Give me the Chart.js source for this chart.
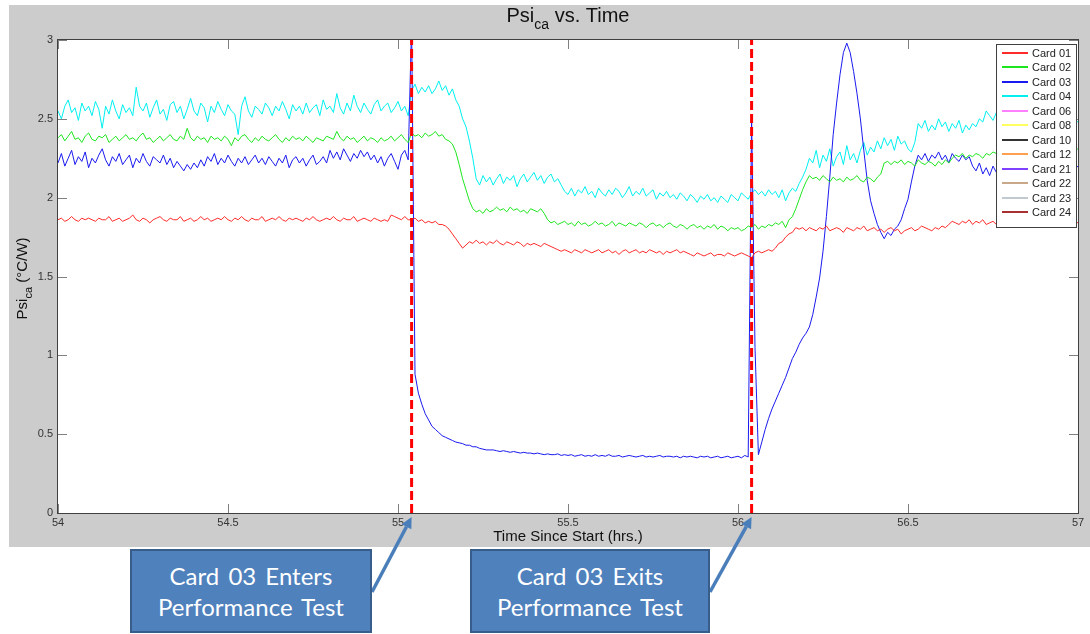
<!DOCTYPE html>
<html><head><meta charset="utf-8">
<script src="https://cdn.jsdelivr.net/npm/chart.js@4.4.1/dist/chart.umd.min.js"></script>
<style>
html,body{margin:0;padding:0;background:#fff;}
#wrap{position:relative;width:1090px;height:634px;overflow:hidden;}
#c{position:absolute;left:0;top:0;}
.callout{position:absolute;box-sizing:border-box;background:#4F81BD;border:2px solid #385D8A;color:#fff;
 font-family:Lato,"Open Sans",sans-serif;font-size:24px;line-height:31px;text-align:center;
 display:flex;flex-direction:column;align-items:center;justify-content:center;word-spacing:3px;}
</style></head>
<body>
<div id="wrap"><canvas id="c" width="1090" height="634"></canvas></div>
<script>
// ---------------- DATA ----------------
const tStart = 54.00, tStep = 0.01;           // sample grid (hrs)
const xTickValues = [54, 54.5, 55, 55.5, 56, 56.5, 57];
const yTickValues = [0, 0.5, 1, 1.5, 2, 2.5, 3];
const eventTimes = [55.04, 56.04];
const eventTexts = [["Card 03 Enters", "Performance Test"], ["Card 03 Exits", "Performance Test"]];
const seriesNames = ["Card 01","Card 02","Card 03","Card 04","Card 06","Card 08","Card 10","Card 12","Card 21","Card 22","Card 23","Card 24"];
const seriesColors = ["#ff2a2a","#1ee61e","#1a1af0","#00f0f0","#ff80ff","#ffff60","#333333","#ffa050","#8040ff","#c8a888","#c0c8d0","#a83030"];

const card01 = [
1.86,1.87,1.85,1.86,1.88,1.86,1.85,1.87,1.86,1.87,
1.86,1.85,1.87,1.86,1.86,1.88,1.85,1.86,1.87,1.85,
1.86,1.87,1.89,1.86,1.85,1.87,1.86,1.84,1.86,1.87,
1.88,1.86,1.85,1.87,1.86,1.86,1.88,1.85,1.86,1.87,
1.85,1.86,1.88,1.86,1.87,1.85,1.86,1.87,1.86,1.88,
1.86,1.85,1.87,1.86,1.88,1.86,1.85,1.87,1.86,1.86,
1.88,1.85,1.86,1.87,1.86,1.88,1.86,1.85,1.87,1.86,
1.87,1.86,1.85,1.87,1.86,1.88,1.86,1.85,1.86,1.87,
1.86,1.88,1.86,1.85,1.87,1.86,1.86,1.88,1.85,1.86,
1.87,1.86,1.85,1.87,1.86,1.85,1.86,1.85,1.89,1.88,
1.87,1.86,1.88,1.86,1.86,1.87,1.85,1.86,1.84,1.85,
1.84,1.85,1.83,1.83,1.82,1.80,1.77,1.74,1.71,1.68,
1.70,1.72,1.71,1.73,1.71,1.72,1.70,1.72,1.71,1.73,
1.71,1.70,1.72,1.71,1.70,1.72,1.71,1.69,1.71,1.70,
1.71,1.70,1.69,1.71,1.70,1.69,1.68,1.67,1.66,1.67,
1.66,1.65,1.67,1.66,1.65,1.67,1.66,1.65,1.66,1.67,
1.65,1.66,1.67,1.65,1.66,1.64,1.66,1.67,1.65,1.66,
1.67,1.65,1.66,1.65,1.67,1.66,1.65,1.66,1.64,1.66,
1.65,1.66,1.67,1.65,1.66,1.65,1.64,1.63,1.65,1.64,
1.63,1.64,1.65,1.63,1.64,1.64,1.63,1.65,1.64,1.63,
1.64,1.65,1.64,1.63,1.62,1.65,1.66,1.65,1.66,1.67,
1.66,1.68,1.71,1.72,1.75,1.77,1.78,1.81,1.80,1.81,
1.79,1.81,1.80,1.79,1.81,1.80,1.82,1.79,1.80,1.81,
1.80,1.78,1.81,1.80,1.79,1.81,1.80,1.82,1.79,1.80,
1.81,1.79,1.80,1.78,1.80,1.81,1.79,1.80,1.77,1.79,
1.80,1.81,1.79,1.80,1.82,1.81,1.80,1.79,1.81,1.80,
1.82,1.81,1.83,1.85,1.84,1.83,1.85,1.84,1.86,1.83,
1.85,1.84,1.86,1.83,1.84,1.85,1.83,1.84,1.86,1.84,
1.85,1.83,1.84,1.85,1.84,1.86,1.83,1.84,1.85,1.84,
1.83,1.85,1.84,1.83,1.85,1.84,1.86,1.84,1.83,1.85,
1.84];

const card02 = [
2.38,2.40,2.36,2.39,2.42,2.37,2.38,2.35,2.39,2.41,
2.37,2.36,2.39,2.38,2.40,2.35,2.37,2.39,2.36,2.38,
2.40,2.37,2.38,2.36,2.39,2.41,2.37,2.38,2.35,2.37,
2.39,2.36,2.38,2.40,2.37,2.36,2.39,2.37,2.44,2.38,
2.36,2.39,2.37,2.38,2.35,2.39,2.37,2.38,2.36,2.39,
2.37,2.33,2.38,2.36,2.39,2.40,2.37,2.35,2.38,2.36,
2.39,2.37,2.36,2.38,2.40,2.37,2.35,2.38,2.36,2.39,
2.37,2.38,2.36,2.39,2.37,2.35,2.38,2.37,2.36,2.39,
2.38,2.37,2.42,2.38,2.36,2.39,2.37,2.38,2.35,2.37,
2.39,2.36,2.38,2.37,2.35,2.38,2.36,2.37,2.39,2.36,
2.38,2.40,2.37,2.35,2.41,2.39,2.40,2.38,2.41,2.39,
2.40,2.42,2.39,2.40,2.37,2.36,2.34,2.29,2.21,2.12,
2.05,1.98,1.93,1.91,1.92,1.90,1.93,1.91,1.92,1.94,
1.92,1.93,1.91,1.94,1.92,1.93,1.91,1.92,1.90,1.93,
1.92,1.91,1.93,1.90,1.86,1.84,1.85,1.83,1.84,1.85,
1.83,1.84,1.82,1.85,1.83,1.84,1.82,1.83,1.85,1.83,
1.84,1.82,1.83,1.85,1.82,1.84,1.83,1.82,1.84,1.83,
1.82,1.84,1.83,1.81,1.83,1.84,1.82,1.83,1.81,1.83,
1.84,1.82,1.81,1.83,1.82,1.80,1.82,1.83,1.81,1.82,
1.80,1.82,1.81,1.83,1.80,1.82,1.81,1.79,1.81,1.80,
1.81,1.79,1.80,1.82,1.81,1.83,1.80,1.82,1.81,1.83,
1.82,1.84,1.83,1.85,1.81,1.86,1.88,1.93,1.99,2.05,
2.10,2.14,2.12,2.13,2.11,2.14,2.12,2.10,2.13,2.11,
2.12,2.10,2.13,2.11,2.12,2.14,2.11,2.10,2.13,2.12,
2.10,2.13,2.15,2.22,2.23,2.21,2.23,2.22,2.24,2.21,
2.23,2.22,2.20,2.24,2.22,2.21,2.23,2.22,2.20,2.23,
2.21,2.24,2.22,2.25,2.27,2.26,2.28,2.25,2.27,2.26,
2.28,2.27,2.25,2.28,2.27,2.29,2.28,2.26,2.28,2.29,
2.28,2.30,2.27,2.29,2.28,2.30,2.28,2.29,2.27,2.30,
2.29,2.28,2.30,2.29,2.31,2.28,2.30,2.29,2.31,2.30,
2.31];

const card03 = [
2.22,2.28,2.20,2.25,2.30,2.21,2.26,2.23,2.29,2.19,
2.25,2.22,2.27,2.31,2.24,2.20,2.26,2.23,2.28,2.21,
2.24,2.27,2.19,2.25,2.22,2.28,2.23,2.20,2.26,2.24,
2.22,2.27,2.21,2.25,2.19,2.23,2.20,2.17,2.21,2.18,
2.22,2.19,2.24,2.20,2.26,2.23,2.28,2.21,2.25,2.22,
2.27,2.23,2.20,2.25,2.22,2.26,2.21,2.24,2.27,2.22,
2.25,2.21,2.26,2.23,2.20,2.25,2.22,2.27,2.19,2.24,
2.26,2.22,2.25,2.20,2.24,2.27,2.21,2.23,2.26,2.22,
2.30,2.25,2.29,2.24,2.31,2.27,2.23,2.28,2.25,2.30,
2.26,2.29,2.24,2.27,2.22,2.26,2.20,2.25,2.28,2.23,
2.18,2.27,2.30,2.24,3.10,0.88,0.76,0.69,0.63,0.59,
0.55,0.53,0.51,0.49,0.48,0.47,0.46,0.45,0.445,0.44,
0.43,0.43,0.42,0.42,0.41,0.405,0.40,0.40,0.40,0.395,
0.39,0.395,0.39,0.385,0.39,0.385,0.38,0.385,0.38,0.38,
0.375,0.38,0.375,0.37,0.375,0.37,0.37,0.375,0.365,0.37,
0.365,0.37,0.36,0.365,0.37,0.36,0.365,0.36,0.37,0.36,
0.365,0.36,0.37,0.36,0.36,0.365,0.355,0.36,0.365,0.36,
0.355,0.36,0.365,0.355,0.36,0.355,0.36,0.365,0.355,0.36,
0.36,0.355,0.36,0.35,0.36,0.355,0.36,0.355,0.35,0.36,
0.355,0.36,0.35,0.355,0.36,0.35,0.355,0.36,0.35,0.355,
0.36,0.35,0.365,0.355,2.50,1.05,0.37,0.45,0.53,0.60,
0.66,0.71,0.76,0.81,0.86,0.92,0.98,1.02,1.07,1.11,
1.14,1.18,1.26,1.37,1.49,1.66,1.88,2.13,2.40,2.60,
2.78,2.92,2.98,2.92,2.80,2.66,2.50,2.30,2.11,1.98,
1.90,1.83,1.78,1.74,1.78,1.76,1.80,1.82,1.86,1.93,
1.99,2.10,2.20,2.27,2.24,2.28,2.23,2.27,2.25,2.29,
2.24,2.27,2.22,2.28,2.25,2.23,2.27,2.24,2.26,2.20,
2.17,2.22,2.15,2.19,2.14,2.20,2.16,2.21,2.18,2.15,
2.19,2.22,2.17,2.20,2.16,2.21,2.18,2.23,2.19,2.17,
2.21,2.18,2.22,2.19,2.16,2.20,2.23,2.19,2.21,2.18,
2.20];

const card04 = [
2.55,2.50,2.58,2.62,2.54,2.57,2.49,2.60,2.55,2.58,
2.52,2.61,2.56,2.44,2.58,2.53,2.62,2.55,2.50,2.59,
2.54,2.57,2.52,2.70,2.58,2.55,2.60,2.51,2.57,2.62,
2.53,2.56,2.49,2.59,2.61,2.54,2.58,2.50,2.56,2.63,
2.55,2.52,2.60,2.57,2.48,2.58,2.54,2.61,2.56,2.52,
2.59,2.55,2.53,2.40,2.58,2.64,2.55,2.51,2.58,2.56,
2.53,2.60,2.57,2.52,2.58,2.55,2.61,2.56,2.50,2.59,
2.55,2.58,2.53,2.60,2.54,2.57,2.59,2.52,2.62,2.56,
2.58,2.54,2.66,2.57,2.53,2.60,2.55,2.65,2.58,2.54,
2.60,2.56,2.53,2.59,2.62,2.55,2.58,2.60,2.54,2.57,
2.61,2.55,2.58,2.52,2.68,2.72,2.66,2.70,2.67,2.71,
2.66,2.69,2.74,2.68,2.71,2.65,2.69,2.62,2.58,2.50,
2.45,2.36,2.25,2.12,2.08,2.14,2.10,2.13,2.08,2.12,
2.15,2.09,2.13,2.11,2.14,2.07,2.12,2.15,2.10,2.13,
2.16,2.11,2.14,2.09,2.13,2.15,2.10,2.12,2.08,2.04,
2.02,2.06,2.01,2.05,2.03,2.07,2.02,2.04,2.00,2.06,
2.03,2.01,2.05,2.02,2.06,2.04,2.00,2.03,2.07,2.01,
2.04,2.02,2.06,2.01,2.03,2.05,1.99,2.03,2.01,2.04,
2.00,2.02,1.99,2.03,2.01,1.98,2.02,2.00,1.97,2.01,
1.99,2.02,1.98,2.00,1.97,2.01,1.99,1.97,2.02,2.00,
1.98,2.03,2.01,1.99,2.03,2.05,2.02,2.04,2.01,2.05,
2.02,2.04,2.00,2.05,1.98,2.03,2.06,2.04,2.09,2.13,
2.18,2.25,2.22,2.30,2.19,2.27,2.23,2.31,2.20,2.26,
2.29,2.21,2.33,2.24,2.28,2.22,2.30,2.35,2.27,2.32,
2.29,2.36,2.31,2.38,2.33,2.37,2.30,2.39,2.34,2.36,
2.31,2.29,2.35,2.47,2.44,2.49,2.42,2.46,2.43,2.50,
2.45,2.48,2.42,2.47,2.44,2.49,2.41,2.46,2.43,2.47,
2.45,2.50,2.48,2.55,2.52,2.49,2.54,2.51,2.48,2.53,
2.50,2.47,2.52,2.49,2.54,2.50,2.46,2.51,2.48,2.53,
2.49,2.52,2.47,2.50,2.53,2.48,2.51,2.46,2.50,2.49,
2.48];

// cards with no visible trace in this window
const card06 = [], card08 = [], card10 = [], card12 = [], card21 = [], card22 = [], card23 = [], card24 = [];

const seriesValues = [card01, card02, card03, card04, card06, card08, card10, card12, card21, card22, card23, card24];
// --------------------------------------

const sampleTimes = n => Array.from({length:n}, (_, i) => +(tStart + i * tStep).toFixed(2));

const FONT = "'Liberation Sans', Arial, sans-serif";
Chart.defaults.font.family = FONT;

const datasets = [];
eventTimes.forEach(t => datasets.push({
  isEvent: true, label: '', data: [{x: t, y: yTickValues[0]}, {x: t, y: yTickValues[yTickValues.length - 1]}],
  borderColor: '#ff0000', borderWidth: 3, borderDash: [9, 4], pointRadius: 0, fill: false
}));
seriesNames.forEach((name, k) => {
  const vals = seriesValues[k];
  const ts = sampleTimes(vals.length);
  datasets.push({
    label: name, data: vals.map((v, i) => ({x: ts[i], y: v})),
    borderColor: seriesColors[k], borderWidth: 1, pointRadius: 0, tension: 0, fill: false
  });
});

const GRAY = '#cccccc';
const bgPlugin = {
  id: 'bg',
  beforeDraw(chart) {
    const {ctx, chartArea: a} = chart;
    ctx.save();
    ctx.fillStyle = '#ffffff'; ctx.fillRect(0, 0, chart.width, chart.height);
    ctx.fillStyle = GRAY; ctx.fillRect(9, 5, chart.width - 9, 542);
    ctx.fillStyle = '#ffffff'; ctx.fillRect(a.left, a.top, a.right - a.left, a.bottom - a.top);
    ctx.restore();
  }
};

const framePlugin = {
  id: 'frame',
  afterDraw(chart) {
    const {ctx, chartArea: a, scales: {x, y}} = chart;
    ctx.save();
    ctx.lineWidth = 1;
    ctx.strokeStyle = '#808080';
    ctx.beginPath();
    const L = 9;
    x.ticks.forEach(t => {
      const p = Math.round(x.getPixelForValue(t.value)) + 0.5;
      ctx.moveTo(p, a.bottom); ctx.lineTo(p, a.bottom - L);
      ctx.moveTo(p, a.top); ctx.lineTo(p, a.top + L);
    });
    y.ticks.forEach(t => {
      const p = Math.round(y.getPixelForValue(t.value)) + 0.5;
      ctx.moveTo(a.left, p); ctx.lineTo(a.left + L, p);
      ctx.moveTo(a.right, p); ctx.lineTo(a.right - L, p);
    });
    ctx.stroke();
    ctx.strokeStyle = '#404040';
    ctx.strokeRect(Math.round(a.left) - 0.5, Math.round(a.top) - 0.5, Math.round(a.right - a.left) + 1, Math.round(a.bottom - a.top) + 1);

    // title with subscript
    ctx.fillStyle = '#111';
    ctx.textBaseline = 'alphabetic';
    ctx.textAlign = 'left';
    const big = '20px ' + FONT, small = '14px ' + FONT;
    ctx.font = big; const w1 = ctx.measureText('Psi').width; const w3 = ctx.measureText(' vs. Time').width;
    ctx.font = small; const w2 = ctx.measureText('ca').width;
    let sx = (a.left + a.right) / 2 - (w1 + w2 + w3) / 2;
    ctx.font = big; ctx.fillText('Psi', sx, 22);
    ctx.font = small; ctx.fillText('ca', sx + w1, 29);
    ctx.font = big; ctx.fillText(' vs. Time', sx + w1 + w2, 22);

    // y-axis title (rotated) with subscript
    const yb = '15px ' + FONT, ys = '11px ' + FONT;
    ctx.font = yb; const v1 = ctx.measureText('Psi').width; const v3 = ctx.measureText(' (\u00B0C/W)').width;
    ctx.font = ys; const v2 = ctx.measureText('ca').width;
    ctx.translate(27, (a.top + a.bottom) / 2 + 2);
    ctx.rotate(-Math.PI / 2);
    let s0 = -(v1 + v2 + v3) / 2;
    ctx.font = yb; ctx.fillText('Psi', s0, 0);
    ctx.font = ys; ctx.fillText('ca', s0 + v1, 5);
    ctx.font = yb; ctx.fillText(' (\u00B0C/W)', s0 + v1 + v2, 0);
    ctx.setTransform(1, 0, 0, 1, 0, 0);

    // legend box
    const lx = 996, ly = 44, lw = 81, lh = 184;
    ctx.fillStyle = '#ffffff'; ctx.fillRect(lx, ly, lw, lh);
    ctx.strokeStyle = '#404040'; ctx.lineWidth = 1; ctx.strokeRect(lx + 0.5, ly + 0.5, lw - 1, lh - 1);
    ctx.font = '11px ' + FONT; ctx.textBaseline = 'middle';
    let row = 0;
    chart.data.datasets.forEach(ds => {
      if (ds.isEvent) return;
      const yy = Math.round(ly + 9 + row * 14.45);
      ctx.strokeStyle = ds.borderColor; ctx.lineWidth = 2;
      ctx.beginPath(); ctx.moveTo(lx + 6, yy); ctx.lineTo(lx + 32, yy); ctx.stroke();
      ctx.fillStyle = '#222'; ctx.fillText(ds.label, lx + 36, yy + 0.5);
      row++;
    });

    // callout arrows
    ctx.strokeStyle = '#4A7EBB'; ctx.fillStyle = '#4A7EBB'; ctx.lineWidth = 3.5;
    eventTimes.forEach((t, i) => {
      const tipX = x.getPixelForValue(t), tipY = a.bottom + 4;
      const fromX = calloutBoxes[i].left + calloutBoxes[i].width, fromY = 592;
      const ang = Math.atan2(tipY - fromY, tipX - fromX);
      const hl = 11, hw = 5.5;
      const bx = tipX - hl * Math.cos(ang), by = tipY - hl * Math.sin(ang);
      ctx.beginPath(); ctx.moveTo(fromX, fromY); ctx.lineTo(bx, by); ctx.stroke();
      ctx.beginPath();
      ctx.moveTo(tipX, tipY);
      ctx.lineTo(bx + hw * Math.sin(ang), by - hw * Math.cos(ang));
      ctx.lineTo(bx - hw * Math.sin(ang), by + hw * Math.cos(ang));
      ctx.closePath(); ctx.fill();
    });
    ctx.restore();
  }
};

const calloutBoxes = [{left: 130, top: 549, width: 242, height: 84}, {left: 470, top: 549, width: 240, height: 84}];
const wrap = document.getElementById('wrap');
calloutBoxes.forEach((b, i) => {
  const d = document.createElement('div');
  d.className = 'callout';
  d.style.left = b.left + 'px'; d.style.top = b.top + 'px';
  d.style.width = b.width + 'px'; d.style.height = b.height + 'px';
  eventTexts[i].forEach(line => { const s = document.createElement('div'); s.textContent = line; d.appendChild(s); });
  wrap.appendChild(d);
});

new Chart(document.getElementById('c'), {
  type: 'line',
  data: {datasets},
  options: {
    responsive: false, animation: false, devicePixelRatio: 1,
    events: [],
    layout: {padding: {top: 40, right: 12, bottom: 87, left: 0}},
    plugins: {legend: {display: false}, title: {display: false}, tooltip: {enabled: false}},
    scales: {
      x: {
        type: 'linear', min: xTickValues[0], max: xTickValues[xTickValues.length - 1],
        afterBuildTicks: s => { s.ticks = xTickValues.map(v => ({value: v})); },
        afterFit: s => { s.height = 34; },
        grid: {display: false, drawTicks: false}, border: {display: false},
        ticks: {font: {size: 11}, color: '#333', padding: 3, maxRotation: 0, autoSkip: false, callback: v => String(v)},
        title: {display: true, text: 'Time Since Start (hrs.)', font: {size: 15}, color: '#111', padding: {top: 0, bottom: 1}}
      },
      y: {
        type: 'linear', min: yTickValues[0], max: yTickValues[yTickValues.length - 1],
        afterBuildTicks: s => { s.ticks = yTickValues.map(v => ({value: v})); },
        afterFit: s => { s.width = 58; },
        grid: {display: false, drawTicks: false}, border: {display: false},
        ticks: {font: {size: 11}, color: '#333', padding: 5, autoSkip: false, callback: v => String(v)}
      }
    }
  },
  plugins: [bgPlugin, framePlugin]
});
</script>
</body></html>
